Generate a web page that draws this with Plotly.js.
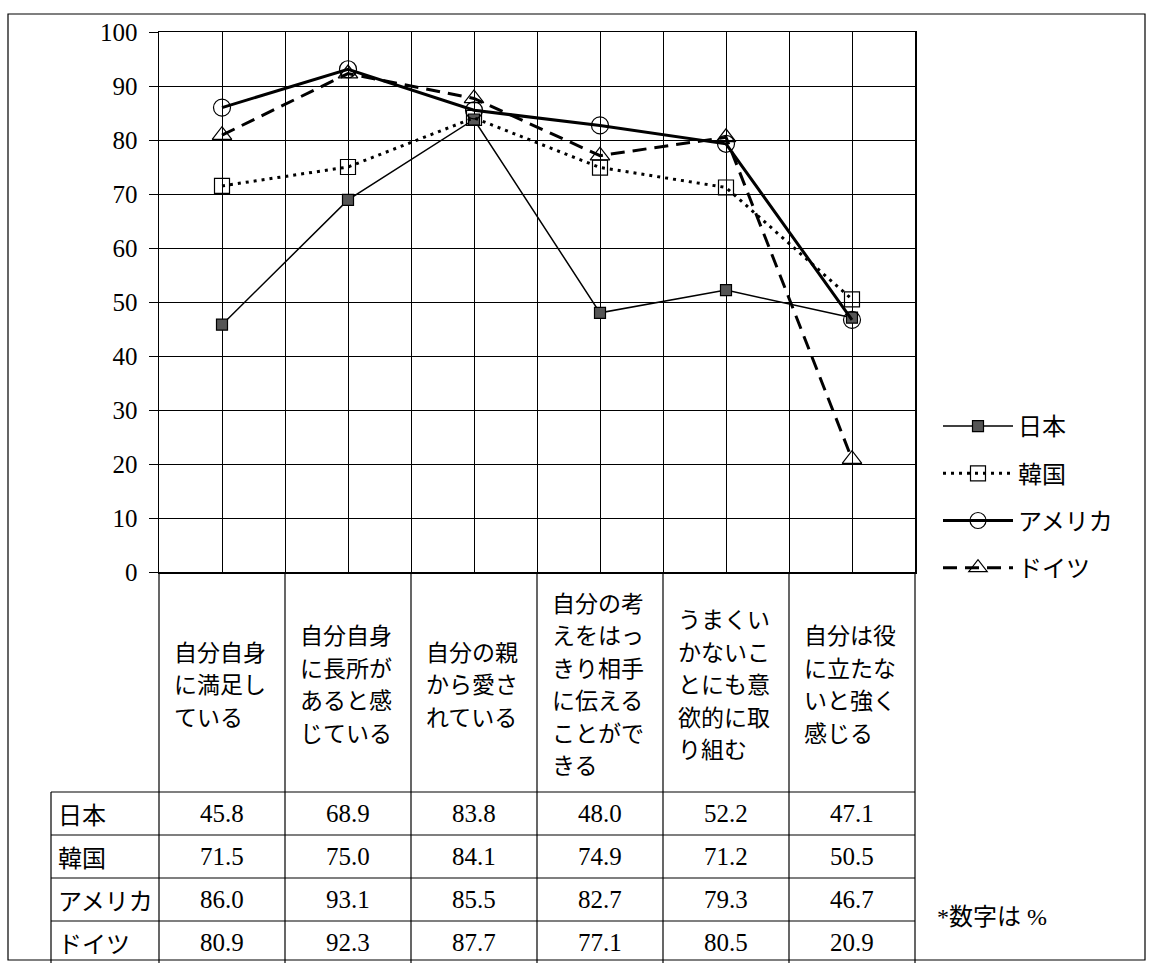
<!DOCTYPE html>
<html>
<head>
<meta charset="utf-8">
<script src="https://cdn.plot.ly/plotly-3.0.1.min.js"></script>
<style>html,body{margin:0;padding:0;background:#fff;}</style>
</head>
<body>
<div id="chart" style="width:1150px;height:963px;"></div>
<script>
// ---- data ----
const categories = [
  "自分自身に満足している",
  "自分自身に長所があると感じている",
  "自分の親から愛されている",
  "自分の考えをはっきり相手に伝えることができる",
  "うまくいかないことにも意欲的に取り組む",
  "自分は役に立たないと強く感じる"
];
const seriesNames = ["日本", "韓国", "アメリカ", "ドイツ"];
const japan   = [45.8, 68.9, 83.8, 48.0, 52.2, 47.1];
const korea   = [71.5, 75.0, 84.1, 74.9, 71.2, 50.5];
const usa     = [86.0, 93.1, 85.5, 82.7, 79.3, 46.7];
const germany = [80.9, 92.3, 87.7, 77.1, 80.5, 20.9];
const yTicks  = [0, 10, 20, 30, 40, 50, 60, 70, 80, 90, 100];
const note = "*数字は %";

// ---- layout helpers ----
const W = 1150, H = 963;
const M = {l: 159, r: 235, t: 32, b: 391};
const PW = W - M.l - M.r, PH = H - M.t - M.b;
const xr = [-0.5, categories.length - 0.5];
const px = p => (p - M.l) / PW;          // pixel x -> paper
const py = p => (H - M.b - p) / PH;      // pixel y -> paper
const xpap = v => (v - xr[0]) / (xr[1] - xr[0]);
const idx = categories.map((_, i) => i);

const JP = "Noto Sans CJK JP";
const SERIF = "Liberation Serif, " + JP;

const allSeries = [japan, korea, usa, germany];
const styles = [
  {line: {color: "#000", width: 1.5, dash: "solid"}, marker: {symbol: "square", size: 11, color: "#555", line: {color: "#000", width: 1.2}}},
  {line: {color: "#000", width: 3, dash: "3px,5px"}, marker: {symbol: "square-open", size: 15, color: "#000", line: {width: 1.2}}},
  {line: {color: "#000", width: 3, dash: "solid"}, marker: {symbol: "circle-open", size: 17, color: "#000", line: {width: 1.2}}},
  {line: {color: "#000", width: 3, dash: "14px,8px"}, marker: {symbol: "triangle-up-open", size: 17, color: "#000", line: {width: 1.2}}}
];

const traces = allSeries.map((vals, k) => ({
  type: "scatter", mode: "lines+markers",
  name: seriesNames[k], legendgroup: "g" + k,
  x: idx, y: vals,
  line: styles[k].line, marker: styles[k].marker,
  cliponaxis: false
}));

// ---- table shapes & annotations ----
const shapes = [];
const annotations = [];
const line = (x0, y0, x1, y1, w) => shapes.push({type: "line", xref: "paper", yref: "paper",
  x0, y0, x1, y1, line: {color: "#000", width: w || 1}, layer: "above"});

const headerTop = H - M.b, headerBot = 792, rowH = 43, tableBot = 965, labelLeft = 51;
// outer frame
shapes.push({type: "rect", xref: "paper", yref: "paper", x0: px(8), x1: px(1145), y0: py(960), y1: py(14),
  line: {color: "#000", width: 1.2}, layer: "below"});
// band boundaries extending below the plot
for (let b = 0; b <= categories.length; b++) {
  const xb = xpap(xr[0] + b);
  line(xb, py(headerTop), xb, py(tableBot), 1.2);
}
// row lines
for (let r = 0; r <= seriesNames.length; r++) {
  const yy = py(headerBot + r * rowH);
  line(px(labelLeft), yy, xpap(xr[1]), yy, 1.2);
}
line(px(labelLeft), py(headerBot), px(labelLeft), py(tableBot), 1.2);

// header labels (4 chars per line), one annotation per line
const lineGap = 32.5;
categories.forEach((c, i) => {
  const parts = c.match(/.{1,4}/g);
  const mid = (headerTop + headerBot) / 2 + 1;
  parts.forEach((p, j) => {
    const yPix = mid + (j - (parts.length - 1) / 2) * lineGap;
    annotations.push({xref: "x", yref: "paper", x: i, y: py(yPix),
      xshift: -50, text: p, showarrow: false, align: "left", xanchor: "left", yanchor: "middle",
      font: {family: JP, size: 23, color: "#000"}});
  });
});
// row labels & values
seriesNames.forEach((n, r) => {
  const yc = py(headerBot + r * rowH + rowH / 2);
  annotations.push({xref: "paper", yref: "paper", x: px(56), y: yc, text: n, showarrow: false,
    xanchor: "left", yanchor: "middle", font: {family: JP, size: 24, color: "#000"}});
  allSeries[r].forEach((v, i) => {
    annotations.push({xref: "x", yref: "paper", x: i, y: yc, text: v.toFixed(1), showarrow: false,
      xanchor: "center", yanchor: "middle", font: {family: SERIF, size: 25, color: "#000"}});
  });
});
annotations.push({xref: "paper", yref: "paper", x: px(935), y: py(917), text: note, showarrow: false,
  xanchor: "left", yanchor: "middle", font: {family: SERIF, size: 24, color: "#000"}});

const layout = {
  width: W, height: H,
  margin: M,
  paper_bgcolor: "#fff", plot_bgcolor: "#fff",
  showlegend: true,
  legend: {x: px(938), y: py(404), xanchor: "left", yanchor: "top", bgcolor: "rgba(0,0,0,0)",
    font: {family: JP, size: 24, color: "#000"}, itemwidth: 70, tracegroupgap: 13,
    traceorder: "grouped"},
  xaxis: {range: xr, tick0: xr[0], dtick: 0.5, showticklabels: false, ticks: "",
    showgrid: true, gridcolor: "#000", gridwidth: 1, zeroline: false,
    showline: true, mirror: true, linecolor: "#000", linewidth: 1.5, fixedrange: true},
  yaxis: {range: [0, 100], tickvals: yTicks, ticks: "outside", ticklen: 9, tickcolor: "#000", tickwidth: 1,
    ticklabelstandoff: 6,
    tickfont: {family: SERIF, size: 25, color: "#000"},
    showgrid: true, gridcolor: "#000", gridwidth: 1, zeroline: false,
    showline: true, mirror: true, linecolor: "#000", linewidth: 1.5, fixedrange: true},
  shapes, annotations
};

Plotly.newPlot("chart", traces, layout, {displayModeBar: false, staticPlot: true});
</script>
</body>
</html>
